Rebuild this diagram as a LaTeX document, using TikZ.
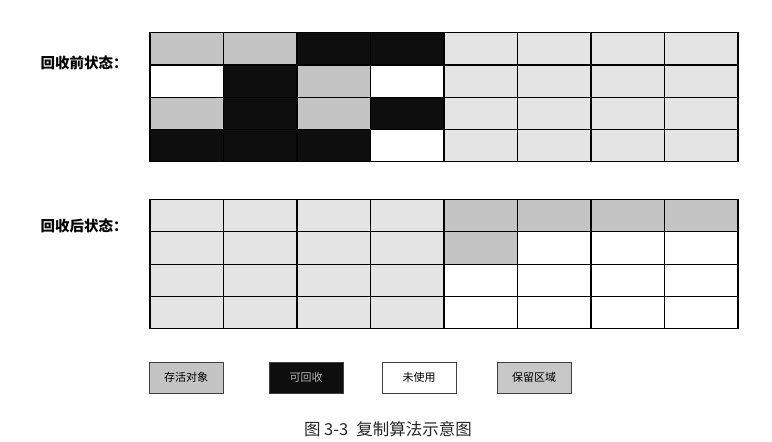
\documentclass[tikz,border=0pt]{standalone}
\usepackage{fontspec}
\setmainfont{Noto Sans CJK SC}
\definecolor{live}{HTML}{C4C4C4}
\definecolor{dead}{HTML}{0E0E0E}
\definecolor{reserve}{HTML}{E4E4E4}
\begin{document}
\begin{tikzpicture}[x=1pt,y=-1pt,
  cell/.style={draw=black,line width=1.1pt,minimum width=73.5pt,minimum height=32.3pt,inner sep=0pt},
  key/.style={draw=black!75,line width=0.8pt,minimum width=74pt,minimum height=31pt,inner sep=0pt,font=\fontsize{11}{12}\selectfont},
  state/.style={anchor=west,font=\fontsize{14.5}{16}\selectfont\bfseries}]
\useasboundingbox (0,0) rectangle (772,442);
\foreach \r/\row in {0/{live,live,dead,dead,reserve,reserve,reserve,reserve},
                     1/{white,dead,live,white,reserve,reserve,reserve,reserve},
                     2/{live,dead,live,dead,reserve,reserve,reserve,reserve},
                     3/{dead,dead,dead,white,reserve,reserve,reserve,reserve}}
  \foreach \f [count=\c from 0] in \row
    \node[cell,fill=\f] (b-\r-\c) at ({150+73.5*(\c+0.5)},{32.7+32.3*(\r+0.5)}) {};
\foreach \r/\row in {0/{reserve,reserve,reserve,reserve,live,live,live,live},
                     1/{reserve,reserve,reserve,reserve,live,white,white,white},
                     2/{reserve,reserve,reserve,reserve,white,white,white,white},
                     3/{reserve,reserve,reserve,reserve,white,white,white,white}}
  \foreach \f [count=\c from 0] in \row
    \node[cell,fill=\f] (a-\r-\c) at ({150+73.5*(\c+0.5)},{199.5+32.3*(\r+0.5)}) {};
\node[state] (before) at (37,63) {回收前状态：};
\node[state] (after) at (37,226) {回收后状态：};
\node[key,fill=live] (k-live) at (186,377.5) {存活对象};
\node[key,fill=dead,text=black!30] (k-dead) at (306,377.5) {可回收};
\node[key,fill=white] (k-free) at (419,377.5) {未使用};
\node[key,fill=black!22] (k-keep) at (534,377.5) {保留区域};
\node[font=\fontsize{16.5}{18}\selectfont,text=black!85] (caption) at (388,429) {图 3-3\hspace{0.5em}复制算法示意图};
\end{tikzpicture}
\end{document}
